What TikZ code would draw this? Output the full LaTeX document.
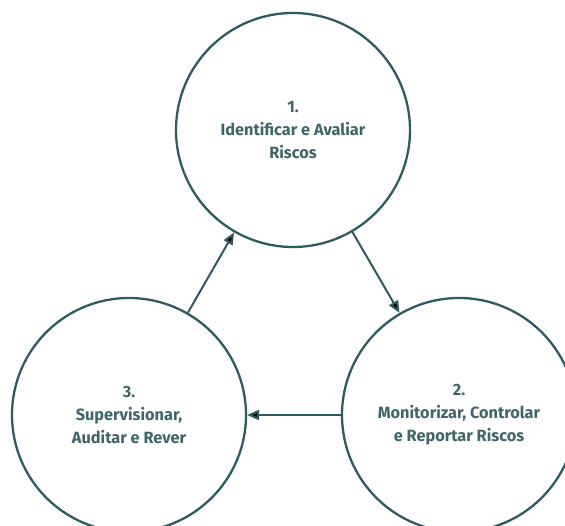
\documentclass[tikz,border=0pt]{standalone}
\usepackage{fontspec}
\setmainfont{Fira Sans}
\usetikzlibrary{arrows.meta}

\definecolor{tealline}{HTML}{2E5B5F}
\definecolor{tealtext}{HTML}{3F6569}

\begin{document}
\begin{tikzpicture}[x=1pt,y=-1pt,>={Triangle[length=12pt,width=10pt]},auto]

\tikzset{
  phase/.style={circle,draw=tealline,line width=2.3pt,minimum size=234pt,inner sep=0pt,
    align=center,text=tealtext,font=\fontsize{16.3}{23}\selectfont\bfseries},
  flow/.style={->,draw=tealline,line width=2pt}
}

\clip (0,0) rectangle (565,525);

\node[phase]   (c1) at (293,130)   {1.\\Identificar e Avaliar\\Riscos};
\node[phase]   (c2) at (459,415)   {2.\\Monitorizar, Controlar\\e Reportar Riscos};
\node[phase]   (c3) at (129,415)   {3.\\Supervisionar,\\Auditar e Rever};

	\path[flow] (c1)  edge    (c2)
						(c2)  edge    (c3)
						(c3)  edge    (c1);

\end{tikzpicture}
\end{document}
